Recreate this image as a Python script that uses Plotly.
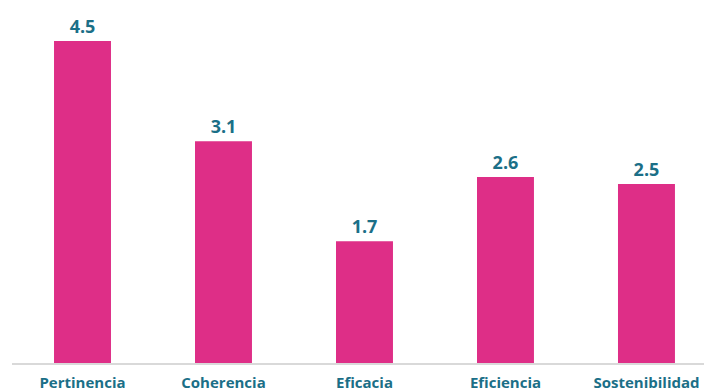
import plotly.graph_objects as go

categories = ["Pertinencia", "Coherencia", "Eficacia", "Eficiencia", "Sostenibilidad"]
values = [4.5, 3.1, 1.7, 2.6, 2.5]

fig = go.Figure(go.Bar(
    x=categories, y=values,
    marker=dict(color="#DE2E87", line=dict(width=0)),
    width=0.404,
    text=[f"{v:.1f}" for v in values],
    textposition="outside",
    textfont=dict(family="Open Sans", size=18, color="#1B6F87"),
    cliponaxis=False,
))
fig.update_traces(texttemplate="<b>%{text}</b>")
fig.update_layout(
    width=704, height=392,
    margin=dict(l=12, r=0, t=0, b=29),
    plot_bgcolor="white", paper_bgcolor="white",
    showlegend=False,
    xaxis=dict(range=[-0.5, 4.408], showline=True, linecolor="#D9D9D9", linewidth=2,
               ticks="", tickfont=dict(family="Open Sans", size=15, color="#1B6F87"),
               tickprefix="<b>", ticksuffix="</b>", showgrid=False,
               ticklabelstandoff=5),
    yaxis=dict(range=[0, 5.073], visible=False, showgrid=False),
    bargap=0.6,
)
fig.write_html("out.html", config={"displayModeBar": False},
               post_script="document.body.style.margin='0';document.body.style.overflow='hidden';")
